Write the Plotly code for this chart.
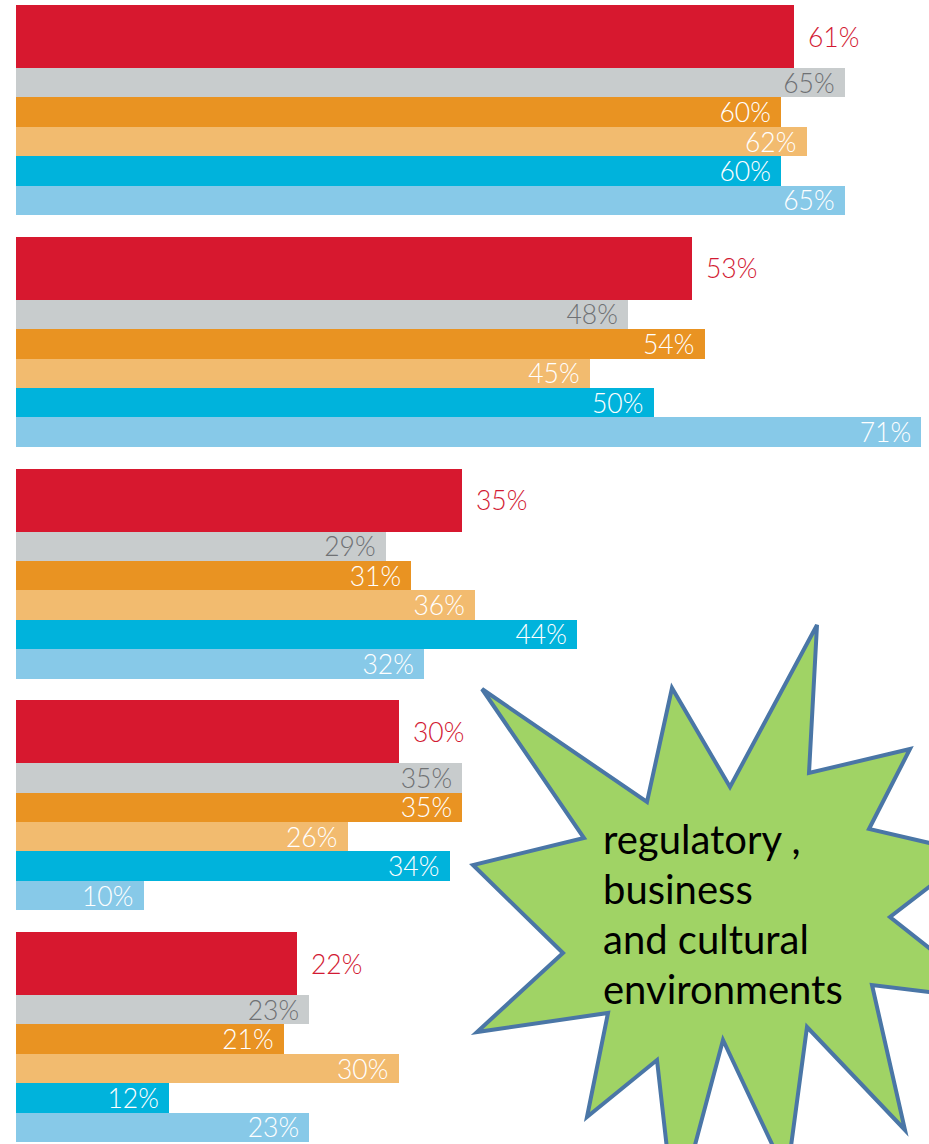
import plotly.graph_objects as go

# ---------------- data ----------------
groups = ["G1", "G2", "G3", "G4", "G5"]
series_names = ["red", "gray", "orange", "light orange", "blue", "light blue"]
red_vals = [61, 53, 35, 30, 22]
gray_vals = [65, 48, 29, 35, 23]
orange_vals = [60, 54, 31, 35, 21]
lorange_vals = [62, 45, 36, 26, 30]
blue_vals = [60, 50, 44, 34, 12]
lblue_vals = [65, 71, 32, 10, 23]
star_lines = ["regulatory ,", "business", "and cultural", "environments"]

# ---------------- style ----------------
W, H = 929, 1144
colors = ["#d7182f", "#c8cccd", "#e99322", "#f2bb6f", "#00b3dc", "#87c9e8"]
label_colors = ["#d21a33", "#6f7174", "white", "white", "white", "white"]
LABEL_FONT = "Lato"
LABEL_SIZE = 26.5

x0_px = 16          # pixel where 0% sits
px_per_pct = 12.75  # pixels per percentage point
group_top0 = 5
group_period = 231.75
big_h = 63
small_h = 29.4

all_vals = [red_vals, gray_vals, orange_vals, lorange_vals, blue_vals, lblue_vals]

def row_geom(g, s):
    top = group_top0 + g * group_period
    if s == 0:
        return top + big_h / 2, big_h
    t = top + big_h + (s - 1) * small_h
    return t + small_h / 2, small_h

fig = go.Figure()
for s, (name, vals) in enumerate(zip(series_names, all_vals)):
    ys, ws = [], []
    for g in range(len(groups)):
        c, h = row_geom(g, s)
        ys.append(c)
        ws.append(h)
    kw = {}
    if s > 0:
        kw = dict(
            text=[f"{v}%\u00a0" for v in vals],
            textposition="inside",
            insidetextanchor="end",
            constraintext="none",
            textfont=dict(family=LABEL_FONT, size=LABEL_SIZE, color=label_colors[s], weight=300),
        )
    fig.add_trace(go.Bar(
        x=vals, y=ys, width=ws, orientation="h", name=name,
        marker=dict(color=colors[s], line=dict(width=0)),
        hoverinfo="skip", showlegend=False, **kw,
    ))
    if s == 0:
        for v, yc in zip(vals, ys):
            fig.add_annotation(
                x=v, y=yc, xref="x", yref="y", text=f"{v}%", showarrow=False,
                xanchor="left", yanchor="middle", xshift=12,
                font=dict(family=LABEL_FONT, size=LABEL_SIZE, color=label_colors[0], weight=300),
            )

# ---------------- starburst callout ----------------
star_px = [
    (817, 625), (809, 773), (910, 749), (869, 829), (973, 853), (890, 917),
    (995, 1000), (872, 985), (905, 1130), (807, 1027), (787, 1176), (723, 1040),
    (675, 1220), (657, 1060), (587, 1117), (608, 1013), (477, 1032), (563, 953),
    (473, 865), (584, 838), (482, 689), (647, 802), (672, 688), (730, 787),
]
path = "M " + " L ".join(f"{px / W:.5f},{1 - py / H:.5f}" for px, py in star_px) + " Z"
fig.add_shape(type="path", path=path, xref="paper", yref="paper",
              fillcolor="#a0d365", line=dict(color="#4a76a6", width=4), layer="above")

baseline0, line_gap = 855, 50
for i, line in enumerate(star_lines):
    fig.add_annotation(
        x=601 / W, y=1 - (baseline0 + i * line_gap) / H, xref="paper", yref="paper",
        text=line, showarrow=False, xanchor="left", yanchor="bottom", yshift=-10,
        font=dict(family="Lato", size=40, color="black"),
    )

fig.update_layout(
    width=W, height=H,
    margin=dict(l=0, r=0, t=0, b=0),
    paper_bgcolor="white", plot_bgcolor="white",
    barmode="overlay", bargap=0,
    xaxis=dict(range=[-x0_px / px_per_pct, (W - x0_px) / px_per_pct],
               visible=False, fixedrange=True),
    yaxis=dict(range=[H, 0], visible=False, fixedrange=True),
)

fig.write_html("out.html",
               config={"displayModeBar": False, "staticPlot": True},
               post_script="document.body.style.margin='0';document.body.style.overflow='hidden';")
